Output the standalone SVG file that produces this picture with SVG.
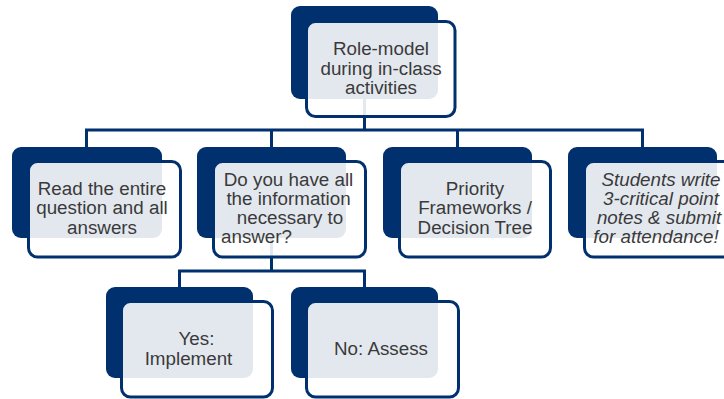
<svg xmlns="http://www.w3.org/2000/svg" width="724" height="399" viewBox="0 0 724 399">
  <style>
    .back { fill: #00306e; }
    .front { fill: #ffffff; fill-opacity: 0.89; stroke: #00306e; stroke-width: 3; }
    .link { fill: none; stroke: #00306e; stroke-width: 3; }
    text { font-family: "Liberation Sans", Arial, sans-serif; font-size: 18.8px; fill: #3a3a3a; }
    .mid { text-anchor: middle; }
    .it { font-style: italic; }
  </style>
  <rect width="724" height="399" fill="#ffffff"/>

  <!-- connectors -->
  <g id="connectors">
    <path class="link" d="M364.5 99 V130"/>
    <path class="link" d="M86.5 130 H642.5 M86.5 128.5 V147 M271.5 130 V147 M457.5 130 V147 M642.5 128.5 V147"/>
    <path class="link" d="M271.5 238 V271 M179.5 271 H364.5 M179.5 269.5 V287 M364.5 269.5 V287"/>
  </g>

  <!-- top -->
  <g id="node-role-model">
    <rect class="back" x="291" y="6" width="147" height="93" rx="9"/>
    <rect class="front" x="306.5" y="21.5" width="148.5" height="95" rx="9"/>
    <text class="mid" x="381" y="55">Role-model</text>
    <text class="mid" x="381" y="74.5">during in-class</text>
    <text class="mid" x="381" y="94">activities</text>
  </g>

  <!-- second row -->
  <g id="node-read">
    <rect class="back" x="12" y="147" width="150" height="91" rx="9"/>
    <rect class="front" x="28.5" y="161.5" width="152" height="95.5" rx="9"/>
    <text class="mid" x="102" y="194.5">Read the entire</text>
    <text class="mid" x="102" y="214">question and all</text>
    <text class="mid" x="102" y="233.5">answers</text>
  </g>

  <g id="node-info">
    <rect class="back" x="197" y="147" width="149" height="91" rx="9"/>
    <rect class="front" x="213.5" y="161.5" width="152" height="95.5" rx="9"/>
    <text class="mid" x="288.5" y="186">Do you have all</text>
    <text class="mid" x="288.5" y="205">the information</text>
    <text class="mid" x="290" y="224">necessary to</text>
    <text x="221" y="243">answer?</text>
  </g>

  <g id="node-priority">
    <rect class="back" x="383" y="147" width="149" height="91" rx="9"/>
    <rect class="front" x="399.5" y="161.5" width="151" height="95.5" rx="9"/>
    <text class="mid" x="475" y="194.5">Priority</text>
    <text class="mid" x="475" y="214">Frameworks /</text>
    <text class="mid" x="475" y="233.5">Decision Tree</text>
  </g>

  <g id="node-students">
    <rect class="back" x="568" y="147" width="149" height="91" rx="9"/>
    <rect class="front" x="584.5" y="161.5" width="151" height="95.5" rx="9"/>
    <text class="mid it" x="661" y="186">Students write</text>
    <text class="mid it" x="661" y="205">3-critical point</text>
    <text class="mid it" x="659" y="224">notes &amp; submit</text>
    <text class="mid it" x="656" y="243">for attendance!</text>
  </g>

  <!-- third row -->
  <g id="node-yes">
    <rect class="back" x="106" y="287" width="147" height="91" rx="9"/>
    <rect class="front" x="121.5" y="301.5" width="151" height="95.5" rx="9"/>
    <text class="mid" x="196.5" y="345">Yes:</text>
    <text class="mid" x="188.5" y="364.5">Implement</text>
  </g>

  <g id="node-no">
    <rect class="back" x="291" y="287" width="147" height="91" rx="9"/>
    <rect class="front" x="306.5" y="301.5" width="152" height="95.5" rx="9"/>
    <text class="mid" x="381" y="355">No: Assess</text>
  </g>
</svg>
